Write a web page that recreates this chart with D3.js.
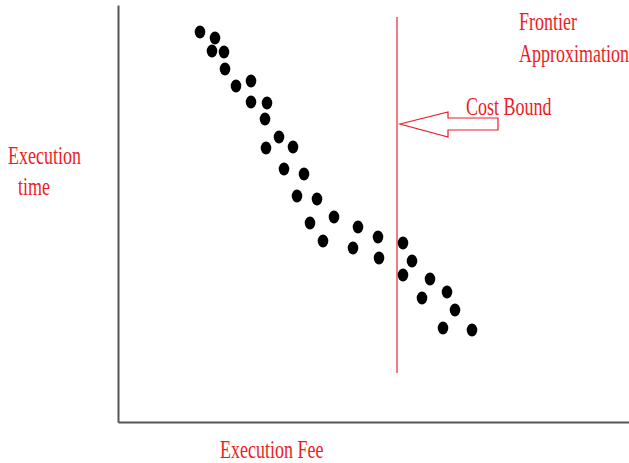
<!DOCTYPE html>
<html>
<head>
<meta charset="utf-8">
<script src="https://cdn.jsdelivr.net/npm/d3@7"></script>
<style>
  body { margin: 0; background: #fff; }
  .lbl { font-family: "Liberation Serif", "Times New Roman", serif; font-size: 18px; fill: #ee1c25; }
</style>
</head>
<body>
<div id="chart"></div>
<script>
// execution fee vs execution time
var fee  = [82, 97, 94, 106, 107, 118, 133, 133, 149, 147, 161, 148, 175, 166, 186, 179, 199,
            192, 216, 205, 240, 235, 260, 261, 285, 294, 285, 312, 304, 329, 337, 325, 354];
var time = [390, 384, 371, 370, 353, 336, 341, 320, 319, 303, 285, 274, 275, 253, 248, 226, 223,
            199, 205, 181, 195, 174, 185, 164, 179, 161, 147, 143, 124, 130, 112, 94, 92];

var costBound = 279;
var costBoundRange = [49, 405];
var arrowTime = 298;

var yLabel = ["Execution", "time"];
var xLabel = "Execution Fee";
var frontierLabel = ["Frontier", "Approximation"];
var boundLabel = "Cost Bound";

var margin = { top: 5, right: 0, bottom: 41, left: 118 };
var width = 629 - margin.left - margin.right,
    height = 463 - margin.top - margin.bottom;

var svg = d3.select("#chart").append("svg")
    .attr("width", 629)
    .attr("height", 463);

var g = svg.append("g")
    .attr("transform", "translate(" + margin.left + "," + margin.top + ")");

var x = d3.scaleLinear().domain([0, width]).range([0, width]);
var y = d3.scaleLinear().domain([0, height]).range([height, 0]);

// axes, no ticks
g.append("g")
    .attr("transform", "translate(0," + height + ")")
    .call(d3.axisBottom(x).tickValues([]).tickSizeOuter(0))
    .select(".domain").attr("stroke", "#555").attr("stroke-width", 2);

g.append("g")
    .call(d3.axisLeft(y).tickValues([]).tickSizeOuter(0))
    .select(".domain").attr("stroke", "#555").attr("stroke-width", 2);

// cost bound line
g.append("line")
    .attr("x1", x(costBound)).attr("x2", x(costBound))
    .attr("y1", y(costBoundRange[0])).attr("y2", y(costBoundRange[1]))
    .attr("stroke", "#e8383d")
    .attr("stroke-width", 1.3);

// points
var pts = d3.range(fee.length).map(function(i) { return { fee: fee[i], time: time[i] }; });
g.selectAll("ellipse.dot")
    .data(pts)
    .enter().append("ellipse")
    .attr("class", "dot")
    .attr("cx", function(d) { return x(d.fee); })
    .attr("cy", function(d) { return y(d.time); })
    .attr("rx", 5.3)
    .attr("ry", 6.5)
    .attr("fill", "#000");

// hollow arrow pointing at the bound
var ax = x(costBound) + 3, ay = y(arrowTime);
var arrow = [[ax, ay], [ax + 48, ay - 12], [ax + 48, ay - 6], [ax + 98, ay - 6],
             [ax + 98, ay + 6], [ax + 48, ay + 6], [ax + 48, ay + 13]];
g.append("path")
    .attr("d", d3.line()(arrow) + "Z")
    .attr("fill", "none")
    .attr("stroke", "#ee1c25")
    .attr("stroke-width", 1.2);

// labels (stretched vertically like the original)
function label(txt, px, py) {
    svg.append("text")
        .attr("class", "lbl")
        .attr("transform", "translate(" + px + "," + py + ") scale(1,1.35)")
        .text(txt);
}
label(yLabel[0], 8, 164);
label(yLabel[1], 18, 195);
label(xLabel, 220, 458);
label(frontierLabel[0], 519, 30);
label(frontierLabel[1], 519, 62);
label(boundLabel, 466, 115);
</script>
</body>
</html>
